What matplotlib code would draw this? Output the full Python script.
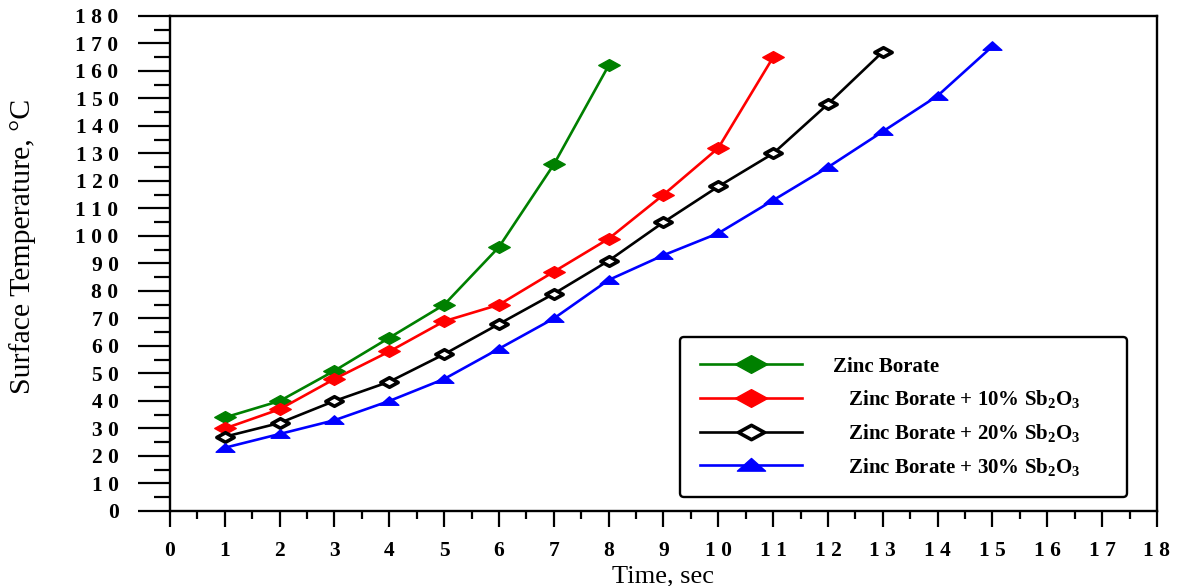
import numpy as np
import matplotlib.pyplot as plt
from matplotlib.path import Path
from matplotlib.ticker import MultipleLocator

plt.rcParams['font.family'] = ['Liberation Serif', 'DejaVu Serif']
plt.rcParams['mathtext.fontset'] = 'custom'
plt.rcParams['mathtext.rm'] = 'Liberation Serif'
plt.rcParams['mathtext.bf'] = 'Liberation Serif:bold'

# data
t_zb = [1, 2, 3, 4, 5, 6, 7, 8]
temp_zb = [34, 40, 51, 63, 75, 96, 126, 162]

t_10 = [1, 2, 3, 4, 5, 6, 7, 8, 9, 10, 11]
temp_10 = [30, 37, 48, 58, 69, 75, 87, 99, 115, 132, 165]

t_20 = [1, 2, 3, 4, 5, 6, 7, 8, 9, 10, 11, 12, 13]
temp_20 = [27, 32, 40, 47, 57, 68, 79, 91, 105, 118, 130, 148, 167]

t_30 = [1, 2, 3, 4, 5, 6, 7, 8, 9, 10, 11, 12, 13, 14, 15]
temp_30 = [23, 28, 33, 40, 48, 59, 70, 84, 93, 101, 113, 125, 138, 151, 169]

labels = ['Zinc Borate',
          '   Zinc Borate + 10% $\\mathbf{Sb_2O_3}$',
          '   Zinc Borate + 20% $\\mathbf{Sb_2O_3}$',
          '   Zinc Borate + 30% $\\mathbf{Sb_2O_3}$']

x_ticks = np.arange(0, 19)
y_ticks = np.arange(0, 181, 10)

# flattened marker shapes like the original
flat_diamond = Path([(-1, 0), (0, 0.55), (1, 0), (0, -0.55), (-1, 0)],
                    [Path.MOVETO, Path.LINETO, Path.LINETO, Path.LINETO, Path.CLOSEPOLY])
flat_tri = Path([(-1, -0.4), (0, 0.5), (1, -0.4), (-1, -0.4)],
                [Path.MOVETO, Path.LINETO, Path.LINETO, Path.CLOSEPOLY])

fig = plt.figure(figsize=(11.77, 5.86), dpi=100)
ax = fig.add_axes([0.1444, 0.128, 0.8386, 0.8447])

lw = 1.9
ax.plot(t_zb, temp_zb, color='#008000', lw=lw, marker=flat_diamond, ms=15.5,
        mec='#008000', mfc='#008000', label=labels[0])
ax.plot(t_10, temp_10, color='#ff0000', lw=lw, marker=flat_diamond, ms=15.5,
        mec='#ff0000', mfc='#ff0000', label=labels[1])
ax.plot(t_20, temp_20, color='black', lw=lw, marker=flat_diamond, ms=12.5,
        mec='black', mfc='white', mew=2.6, label=labels[2])
ax.plot(t_30, temp_30, color='#0000ff', lw=lw, marker=flat_tri, ms=13.5,
        mec='#0000ff', mfc='#0000ff', label=labels[3])

ax.set_xlim(0, 18)
ax.set_ylim(0, 180)
ax.set_xticks(x_ticks)
ax.set_yticks(y_ticks)
ax.xaxis.set_minor_locator(MultipleLocator(0.5))
ax.yaxis.set_minor_locator(MultipleLocator(5))
ax.set_xticklabels([' '.join(str(v)) for v in x_ticks], fontsize=15.5, fontweight='bold')
ax.set_yticklabels([' '.join(str(v)) for v in y_ticks], fontsize=15.5, fontweight='bold')

ax.tick_params(axis='y', which='major', direction='out', length=23, width=1.6, pad=14)
ax.tick_params(axis='y', which='minor', direction='out', length=11.5, width=1.6)
ax.tick_params(axis='x', which='major', direction='out', length=11.5, width=1.6, pad=10)
ax.tick_params(axis='x', which='minor', direction='out', length=6, width=1.6)
for s in ax.spines.values():
    s.set_linewidth(1.7)

ax.set_xlabel('Time, sec', fontsize=19, labelpad=3)
ax.set_ylabel('Surface Temperature, \u00b0C', fontsize=21.5)
ax.yaxis.set_label_coords(-0.136, 0.535)

leg = ax.legend(loc='upper left', bbox_to_anchor=(0.517, 0.352, 0.453, 0.0),
                mode='expand', borderaxespad=0, prop={'weight': 'bold', 'size': 15},
                handlelength=4.9, handletextpad=1.47, labelspacing=0.56, borderpad=0.95,
                markerscale=1.5, fancybox=True, framealpha=1)
leg.get_frame().set_edgecolor('black')
leg.get_frame().set_linewidth(1.7)

fig.savefig('out.png', dpi=100)
